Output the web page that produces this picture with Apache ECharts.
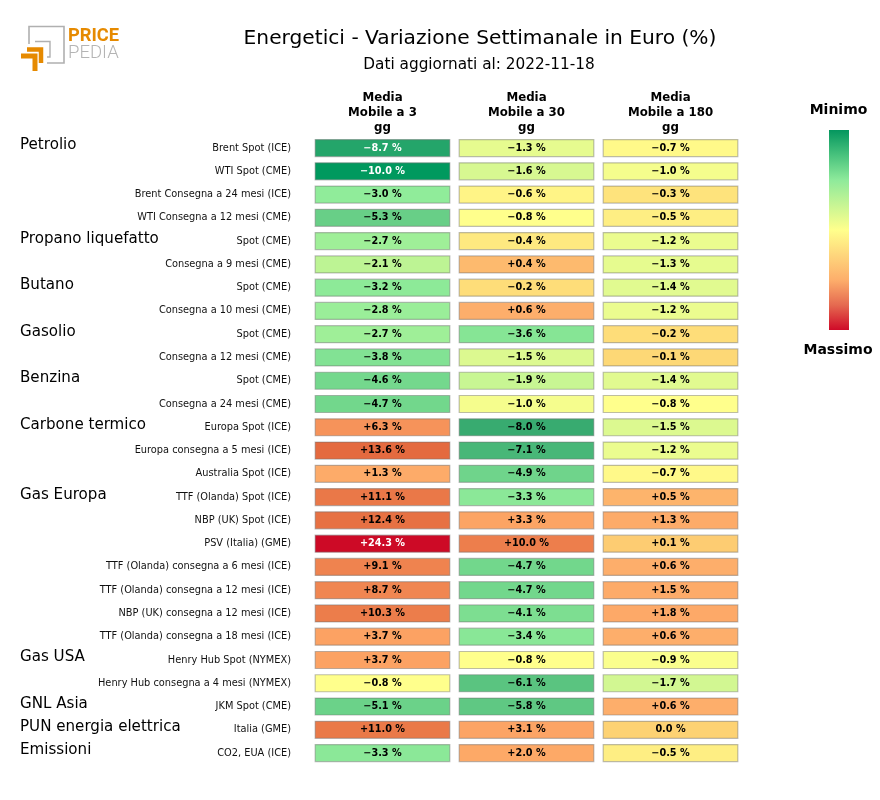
<!DOCTYPE html>
<html>
<head>
<meta charset="utf-8">
<style>html,body{margin:0;padding:0;background:#fff}#chart{width:880px;height:800px}</style>
<script src="https://cdn.jsdelivr.net/npm/echarts@6/dist/echarts.min.js"></script>
</head>
<body>
<div id="chart"></div>
<script>
const columns = ["Media\nMobile a 3\ngg", "Media\nMobile a 30\ngg", "Media\nMobile a 180\ngg"];
const rows = [
  "Brent Spot (ICE)", "WTI Spot (CME)", "Brent Consegna a 24 mesi (ICE)", "WTI Consegna a 12 mesi (CME)",
  "Spot (CME)", "Consegna a 9 mesi (CME)",
  "Spot (CME)", "Consegna a 10 mesi (CME)",
  "Spot (CME)", "Consegna a 12 mesi (CME)",
  "Spot (CME)", "Consegna a 24 mesi (CME)",
  "Europa Spot (ICE)", "Europa consegna a 5 mesi (ICE)", "Australia Spot (ICE)",
  "TTF (Olanda) Spot (ICE)", "NBP (UK) Spot (ICE)", "PSV (Italia) (GME)", "TTF (Olanda) consegna a 6 mesi (ICE)",
  "TTF (Olanda) consegna a 12 mesi (ICE)", "NBP (UK) consegna a 12 mesi (ICE)", "TTF (Olanda) consegna a 18 mesi (ICE)",
  "Henry Hub Spot (NYMEX)", "Henry Hub consegna a 4 mesi (NYMEX)",
  "JKM Spot (CME)", "Italia (GME)", "CO2, EUA (ICE)"
];
const groups = [
  "Petrolio", "", "", "",
  "Propano liquefatto", "",
  "Butano", "",
  "Gasolio", "",
  "Benzina", "",
  "Carbone termico", "", "",
  "Gas Europa", "", "", "", "", "", "",
  "Gas USA", "",
  "GNL Asia", "PUN energia elettrica", "Emissioni"
];
const ma3 = [-8.7, -10.0, -3.0, -5.3, -2.7, -2.1, -3.2, -2.8, -2.7, -3.8, -4.6, -4.7, 6.3, 13.6, 1.3, 11.1, 12.4, 24.3, 9.1, 8.7, 10.3, 3.7, 3.7, -0.8, -5.1, 11.0, -3.3];
const ma30 = [-1.3, -1.6, -0.6, -0.8, -0.4, 0.4, -0.2, 0.6, -3.6, -1.5, -1.9, -1.0, -8.0, -7.1, -4.9, -3.3, 3.3, 10.0, -4.7, -4.7, -4.1, -3.4, -0.8, -6.1, -5.8, 3.1, 2.0];
const ma180 = [-0.7, -1.0, -0.3, -0.5, -1.2, -1.3, -1.4, -1.2, -0.2, -0.1, -1.4, -0.8, -1.5, -1.2, -0.7, 0.5, 1.3, 0.1, 0.6, 1.5, 1.8, 0.6, -0.9, -1.7, 0.6, 0.0, -0.5];

// cell colours, the scale is not linear
const scaleValues = [-10, -8, -5, -3, -0.8, 0, 0.6, 3.7, 13.6, 24.3];
const scaleColors = ["#00995e", "#38ab70", "#6dd38a", "#90ec9a", "#ffff8c", "#fdd273", "#fdae6b", "#fca263", "#e46a3f", "#cd0a26"];
// colour bar, top (Minimo) to bottom (Massimo)
const barColors = ["#04965e", "#48c27d", "#8eea9b", "#c7f594", "#ffff8c", "#fed67c", "#fdae6b", "#e56a50", "#cf0a28"];

function colorFor(v) {
  let i = 0;
  while (i < scaleValues.length - 2 && v > scaleValues[i + 1]) i++;
  const f = (v - scaleValues[i]) / (scaleValues[i + 1] - scaleValues[i]);
  return echarts.color.lerp(f, [scaleColors[i], scaleColors[i + 1]]);
}

function formatValue(v) {
  const s = Math.abs(v).toFixed(1) + " %";
  if (v === 0) return s;
  return (v < 0 ? "\u2212" : "+") + s;
}

const cells = [];
[ma3, ma30, ma180].forEach((values, c) => {
  values.forEach((v, r) => cells.push([c, r, v]));
});

const FONT = "DejaVu Sans";

const chart = echarts.init(document.getElementById("chart"), null, { renderer: "canvas" });
chart.setOption({
  animation: false,
  backgroundColor: "#fff",
  title: [
    {
      text: "Energetici - Variazione Settimanale in Euro (%)",
      left: 475, top: 24, textAlign: "center",
      textStyle: { fontFamily: FONT, fontSize: 20.2, fontWeight: "normal", color: "#000" }
    },
    {
      text: "Dati aggiornati al: 2022-11-18",
      left: 474, top: 53, textAlign: "center",
      textStyle: { fontFamily: FONT, fontSize: 15.3, fontWeight: "normal", color: "#000" }
    }
  ],
  grid: { left: 310.5, width: 432, top: 136.4, height: 628.3 },
  xAxis: {
    type: "category", position: "top", data: columns,
    axisLine: { show: false }, axisTick: { show: false },
    axisLabel: { interval: 0, margin: 1, lineHeight: 15, fontFamily: FONT, fontSize: 11.8, fontWeight: "bold", color: "#000" }
  },
  yAxis: [
    {
      type: "category", inverse: true, data: rows,
      axisLine: { show: false }, axisTick: { show: false },
      axisLabel: { interval: 0, margin: 19.5, fontFamily: FONT, fontSize: 9.8, color: "#111" }
    },
    {
      type: "category", inverse: true, position: "left", data: groups,
      axisLine: { show: false }, axisTick: { show: false },
      axisLabel: {
        interval: 0, margin: 290.5, align: "left", verticalAlign: "bottom", lineHeight: 5,
        fontFamily: FONT, fontSize: 15.1, color: "#000"
      }
    }
  ],
  series: [{
    type: "custom",
    coordinateSystem: "cartesian2d",
    data: cells,
    encode: { x: 0, y: 1 },
    clip: false,
    renderItem(params, api) {
      const v = api.value(2);
      const center = api.coord([api.value(0), api.value(1)]);
      const w = api.size([1, 0])[0] * 0.935;
      const h = api.size([0, 1])[1] * 0.73;
      const light = v <= -8.5 || v >= 20;
      return {
        type: "group",
        children: [
          {
            type: "rect",
            shape: { x: center[0] - w / 2, y: center[1] - h / 2, width: w, height: h },
            style: { fill: colorFor(v), stroke: "rgba(110,110,110,0.45)", lineWidth: 1.2 }
          },
          {
            type: "text",
            style: {
              x: center[0], y: center[1], text: formatValue(v),
              align: "center", verticalAlign: "middle",
              font: "bold 9.7px '" + FONT + "'",
              fill: light ? "#fff" : "#000"
            }
          }
        ]
      };
    }
  }],
  graphic: {
    elements: [
      // colour bar
      {
        type: "rect", shape: { x: 829, y: 130, width: 20, height: 200 },
        style: {
          fill: new echarts.graphic.LinearGradient(0, 0, 0, 1,
            barColors.map((color, i) => ({ offset: i / (barColors.length - 1), color })))
        }
      },
      { type: "text", x: 838.5, y: 110, style: { text: "Minimo", align: "center", verticalAlign: "middle", font: "bold 14px '" + FONT + "'", fill: "#000" } },
      { type: "text", x: 838, y: 350, style: { text: "Massimo", align: "center", verticalAlign: "middle", font: "bold 14px '" + FONT + "'", fill: "#000" } },
      // logo
      { type: "polyline", shape: { points: [[29, 44], [29, 26.5], [64, 26.5], [64, 63], [47, 63]] }, style: { fill: null, stroke: "#b0b0b0", lineWidth: 1.6 } },
      { type: "polyline", shape: { points: [[35, 41.5], [50, 41.5], [50, 57], [47, 57]] }, style: { fill: null, stroke: "#b0b0b0", lineWidth: 1.4 } },
      { type: "polyline", shape: { points: [[27, 49.5], [41, 49.5], [41, 63]] }, style: { fill: null, stroke: "#e68a00", lineWidth: 4.5 } },
      { type: "polyline", shape: { points: [[21, 56], [35, 56], [35, 71]] }, style: { fill: null, stroke: "#e68a00", lineWidth: 5 } },
      { type: "text", left: 68, top: 27, style: { text: "PRICE", font: "bold 18.3px Roboto", fill: "#e68a00" } },
      { type: "text", left: 68, top: 44, style: { text: "PEDIA", font: "300 18.5px Roboto", fill: "#b4b4b4" } }
    ]
  }
});
</script>
</body>
</html>
